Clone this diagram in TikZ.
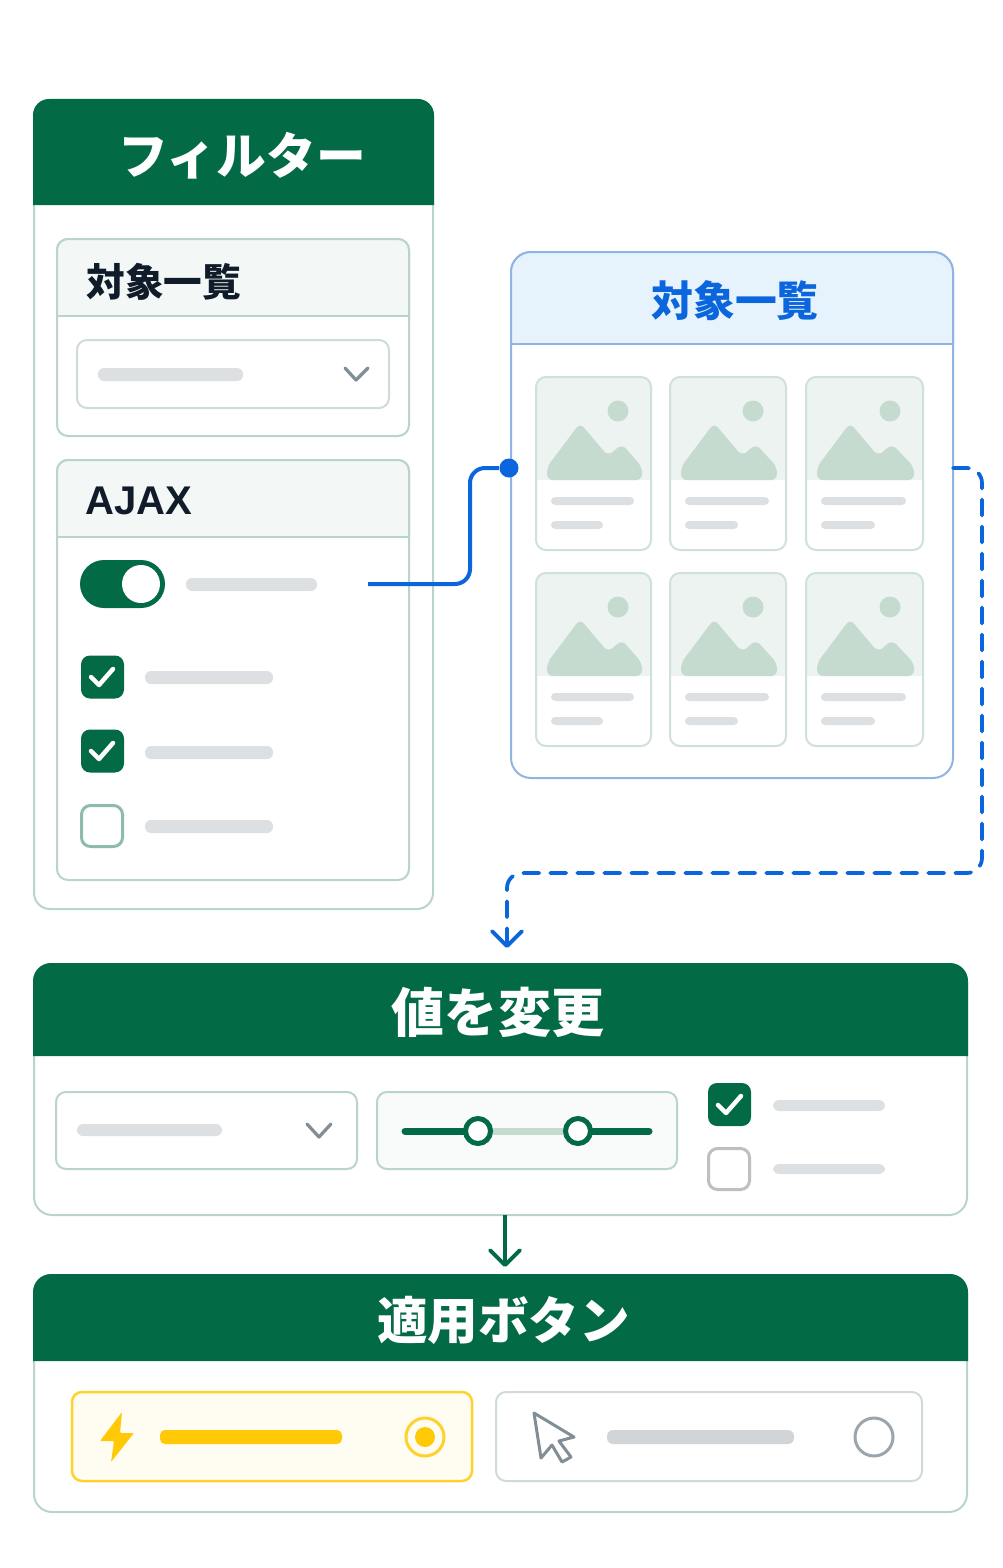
\documentclass[tikz,border=0pt]{standalone}
\usepackage{fontspec}
\usepackage{xcolor}
\usetikzlibrary{arrows.meta,positioning}
\setmainfont{Noto Sans CJK JP}
\newfontfamily\latinfont{Liberation Sans}
\definecolor{headgreen}{HTML}{036A46}
\definecolor{edgegreen}{HTML}{B9D4CA}
\definecolor{softgreen}{HTML}{F3F7F5}
\definecolor{flowblue}{HTML}{0B66DD}
\definecolor{edgeblue}{HTML}{8FB5E3}
\definecolor{softblue}{HTML}{E6F3FD}
\definecolor{skelgrey}{HTML}{DDE0E3}
\definecolor{hillgreen}{HTML}{C6DBD0}
\definecolor{imggreen}{HTML}{ECF3F0}
\definecolor{inkdark}{HTML}{111C2B}
\definecolor{sunyellow}{HTML}{FFC907}
\definecolor{softyellow}{HTML}{FFFDF2}
\definecolor{pointgrey}{HTML}{828E96}
\definecolor{selectedge}{HTML}{CFDBD7}

\begin{document}
\begin{tikzpicture}[
    x=0.02cm, y=-0.02cm,
    sz/.style 2 args={minimum width=#1*0.02cm, minimum height=#2*0.02cm},
    box/.style={draw=edgegreen, line width=0.04cm, inner sep=0pt, outer sep=0pt},
    panel/.style={box, fill=white, rounded corners=0.32cm},
    inset/.style={box, rounded corners=0.22cm},
    card/.style={draw=edgegreen!70, line width=0.04cm, inner sep=0pt, outer sep=0pt, rounded corners=0.2cm},
    headfill/.style={fill=headgreen, rounded corners=0.32cm},
    softfill/.style={fill=softgreen, rounded corners=0.22cm},
    title/.style={text=white, font=\bfseries\fontsize{28.3}{28}\selectfont},
    subtitle/.style={text=inkdark, font=\bfseries\fontsize{22}{22}\selectfont, inner sep=0pt},
    skel/.style={fill=skelgrey, rounded corners=0.12cm},
    chevron/.style={draw=pointgrey, line width=0.065cm, line cap=round, line join=round},
    tickbox/.style={fill=headgreen, inner sep=0pt, outer sep=0pt, sz={43}{43}, rounded corners=0.18cm},
    emptybox/.style={fill=white, draw=#1, line width=0.06cm, inner sep=0pt, outer sep=0pt, sz={41}{41}, rounded corners=0.18cm},
    tick/.style={draw=white, line width=0.09cm, line cap=round, line join=round},
    knob/.style={circle, fill=white, draw=headgreen, line width=0.1cm, inner sep=0pt, minimum size=0.5cm},
    flow/.style={flowblue, line width=0.08cm, rounded corners=0.3cm},
    barb/.style={-{Straight Barb[length=0.3cm,width=0.6cm,round]}, line width=0.075cm}
]
\useasboundingbox (0,0) rectangle (1003,1568);

% Filter panel
\node[panel, sz={399}{809}] (filter) at (233.5,504.5) {};
\fill[headfill] (33,205) |- (434,99) -- (434,205);
\node[title] (filtertitle) at (242,156) {フィルター};

% First filter group
\node[inset, fill=white, sz={352}{197}] (group1) at (233,337.5) {};
\filldraw[softfill, draw=edgegreen, line width=0.04cm] (57,316) |- (409,239) -- (409,316);
\draw[edgegreen, line width=0.04cm] (57,316) -- (409,316);
\node[subtitle, anchor=west] (group1title) at (86,282) {対象一覧};
\node[inset, fill=white, rounded corners=0.2cm, draw=selectedge, sz={312}{68}] (select1) at (233,374) {};
\fill[skel] (98,368) rectangle (243,381);
\draw[chevron] (345,368) -- (356,380) -- (368,368);

% Second filter group
\node[inset, fill=white, sz={352}{420}] (group2) at (233,670) {};
\filldraw[softfill, draw=edgegreen, line width=0.04cm] (57,537) |- (409,460) -- (409,537);
\draw[edgegreen, line width=0.04cm] (57,537) -- (409,537);
\node[subtitle, anchor=west, font=\latinfont\bfseries\fontsize{22.8}{24}\selectfont] (group2title) at (85,501) {AJAX};
\node[fill=headgreen, inner sep=0pt, sz={85}{48}, rounded corners=0.48cm] (toggle) at (122.5,584) {};
\node[circle, fill=white, inner sep=0pt, minimum size=0.76cm] (toggleknob) at (141,584) {};
\fill[skel] (186,578) rectangle (317,591);

\node[tickbox] (check1) at (102.5,677) {};
\draw[tick] (91,677) -- (99,685) -- (113,669);
\node[tickbox] (check2) at (102.5,751) {};
\draw[tick] (91,751) -- (99,759) -- (113,743);
\node[emptybox=headgreen!45!white] (check3) at (102,826) {};
\foreach \yy in {671,746,820}
    \fill[skel] (145,\yy) rectangle (273,\yy+13);

% List panel
\node[panel, draw=edgeblue, rounded corners=0.4cm, sz={442}{526}] (list) at (732,515) {};
\filldraw[fill=softblue, draw=edgeblue, line width=0.04cm, rounded corners=0.4cm] (511,344) |- (953,252) -- (953,344);
\draw[edgeblue, line width=0.05cm] (511,344) -- (953,344);
\node[text=flowblue, font=\bfseries\fontsize{23.8}{24}\selectfont] (listtitle) at (735,301) {対象一覧};

% Image cards
\foreach \xa/\cw in {536/115,670/116,806/117}
    \foreach \ya in {377,573} {
        \begin{scope}[shift={(\xa,\ya)}]
            \fill[imggreen, rounded corners=0.2cm] (0,103) |- (\cw,0) -- (\cw,103);
            \fill[hillgreen, rounded corners=0.12cm] (11,103) -- (11,90) -- (44,46) -- (72,79) -- (86,67) -- (\cw-9,90) -- (\cw-9,103) -- cycle;
            \fill[hillgreen] (\cw-33,34) circle (10.5);
            \node[card, sz={\cw}{173}] (card\xa\ya) at (\cw/2,86.5) {};
            \fill[skel, rounded corners=0.08cm] (15,120) rectangle (\cw-17,128);
            \fill[skel, rounded corners=0.08cm] (15,144) rectangle (\cw-48,152);
        \end{scope}
    }

% Connectors from the filter to the list and on to the next step
\coordinate (togglewire) at (368,584);
\node[circle, fill=flowblue, inner sep=0pt, minimum size=0.38cm] (listdot) at (509,468) {};
\coordinate (wirebend) at (470,0);
\draw[flow] (togglewire) -| (wirebend |- listdot) -- (listdot);

\coordinate (sideturn) at (982,873);
\coordinate (changein) at (507,948);
\draw[flow, barb, dash pattern=on 0.32cm off 0.22cm, line cap=round] (list.east |- listdot) -| (sideturn) -| (changein);

% Change panel
\node[panel, rounded corners=0.36cm, sz={933}{251}] (change) at (500.5,1089.5) {};
\fill[headfill, rounded corners=0.36cm] (33,1056) |- (968,963) -- (968,1056);
\node[title, font=\bfseries\fontsize{30.2}{30}\selectfont] (changetitle) at (498,1012) {値を変更};

\node[inset, fill=white, rounded corners=0.2cm, sz={301}{77}] (select2) at (206.5,1130.5) {};
\fill[skel] (77,1124) rectangle (222,1136);
\draw[chevron] (307,1124) -- (319,1137) -- (331,1124);

\node[inset, fill=softgreen!50, rounded corners=0.2cm, sz={300}{77}] (slider) at (527,1130.5) {};
\draw[hillgreen, line width=0.14cm] (478,1131) -- (578,1131);
\draw[headgreen, line width=0.14cm, line cap=round] (405,1131) -- (478,1131);
\draw[headgreen, line width=0.14cm, line cap=round] (578,1131) -- (649,1131);
\node[knob] (knob1) at (478,1131) {};
\node[knob] (knob2) at (578,1131) {};

\node[tickbox] (check4) at (729.5,1104.5) {};
\draw[tick] (718,1105) -- (726,1113) -- (741,1096);
\node[emptybox=gray!50] (check5) at (729,1169) {};
\fill[skel] (773,1100) rectangle (885,1111);
\fill[skel] (773,1164) rectangle (885,1174);

\coordinate (applyin) at (505,1267);
\draw[headgreen, barb] (change.south -| applyin) -- (applyin);

% Apply panel
\node[panel, rounded corners=0.36cm, sz={933}{237}] (apply) at (500.5,1393.5) {};
\fill[headfill, rounded corners=0.36cm] (33,1361) |- (968,1274) -- (968,1361);
\node[title, font=\bfseries\fontsize{28.8}{28}\selectfont] (applytitle) at (503.5,1320) {適用ボタン};

\node[inset, fill=softyellow, draw=sunyellow!85, rounded corners=0.2cm, line width=0.05cm, sz={400}{89}] (auto) at (272,1436.5) {};
\fill[sunyellow, rounded corners=0.02cm] (122,1412) -- (100,1441) -- (114,1441) -- (111,1462) -- (134,1433) -- (120,1433) -- cycle;
\fill[sunyellow, rounded corners=0.1cm] (160,1430) rectangle (342,1444);
\node[circle, draw=sunyellow!85, line width=0.06cm, inner sep=0pt, minimum size=0.76cm] (autoring) at (425,1437) {};
\node[circle, fill=sunyellow, inner sep=0pt, minimum size=0.4cm] (autodot) at (425,1437) {};

\node[inset, fill=white, draw=selectedge, rounded corners=0.2cm, sz={426}{89}] (manual) at (709,1436.5) {};
\filldraw[fill=white, draw=pointgrey, line width=0.06cm, line join=round] (534,1413) -- (541,1458) -- (552,1445) -- (562,1462) -- (571,1457) -- (559,1441) -- (574,1437) -- cycle;
\fill[skel, fill=skelgrey!95!black, rounded corners=0.12cm] (607,1430) rectangle (794,1444);
\node[circle, draw=pointgrey!80, line width=0.06cm, inner sep=0pt, minimum size=0.76cm] (manualring) at (874,1437) {};
\end{tikzpicture}
\end{document}
